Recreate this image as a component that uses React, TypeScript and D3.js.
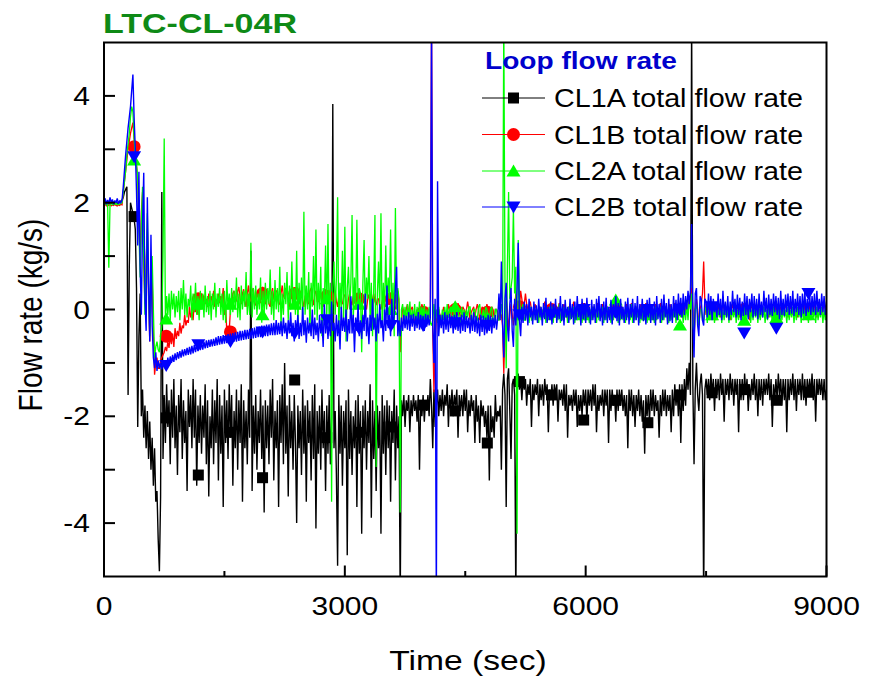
import React from "react";
import * as d3 from "d3";

// sampling interval of the digitised records (s)
const SAMPLE_STEP = 15;

const cl1a = [
  2.0, 2.03, 1.97, 2.02, 1.98, 2.01, 1.99, 2.02, 1.98, 2.0, 2.02, 1.97, 2.01, 2.0, 2.03, 2.05, 2.1, 2.2, 2.25, 2.3,
  -1.6, 0.8, 2.0, 1.9, 1.8, 1.7, 1.5, 0.4, -2.2, -0.5, 0.3, -2.0, -1.5, -2.4, -1.8, -2.6, -1.9, -2.8, -2.1, -3.0,
  -2.4, -3.3, -2.6, -3.6, -3.4, -4.3, -4.9, -3.5, 2.2, -2.8, -1.6, -2.5, -1.4, -2.2, -1.7, -2.9, -1.5, -2.4, -1.3, -2.6,
  -1.8, -3.1, -1.6, -2.3, -1.3, -2.8, -1.7, -2.5, -1.9, -3.4, -1.5, -2.2, -1.6, -2.6, -1.3, -2.4, -1.5, -3.3, -1.8, -2.5,
  -1.6, -2.7, -1.8, -2.4, -1.4, -2.9, -1.7, -3.5, -2.0, -2.6, -1.5, -2.9, -1.7, -2.5, -1.3, -3.2, -1.6, -2.7, -1.8, -3.7,
  -1.5, -2.5, -1.7, -2.8, -1.4, -2.4, -1.6, -3.3, -1.9, -2.6, -1.5, -3.0, -1.7, -2.5, -1.4, -3.6, -1.7, -2.6, -1.9, -2.9,
  -1.5, -2.4, 1.1, -3.4, -1.8, -2.7, -1.6, -3.0, -1.9, -2.5, -1.5, -2.8, -1.8, -3.8, -1.7, -2.6, -1.8, -2.9, -1.5, -2.4,
  -1.3, -3.2, -1.9, -2.6, -1.7, -3.7, -1.6, -2.5, -1.4, -2.9, -1.0, -2.7, -1.8, -3.5, -1.6, -2.6, -1.9, -3.0, -1.6, -2.5,
  -4.0, -1.8, -2.6, -1.9, -3.1, -1.5, -2.7, -1.8, -3.6, -1.7, -2.5, -1.9, -3.2, -1.6, -2.8, -1.4, -4.1, -1.9, -2.7, -1.8,
  -3.0, -1.5, -2.6, -1.9, -3.4, -1.8, -2.7, -1.6, -2.9, -2.0, 3.85, -2.6, -1.9, -3.1, -4.8, -1.6, -2.7, -1.8, -3.3, -1.9,
  -2.6, -1.7, -4.6, -1.5, -2.8, -1.9, -3.1, -2.0, -2.6, -1.7, -3.7, -1.6, -2.7, -1.9, -4.2, -1.8, -2.6, -1.7, -3.0, -1.9,
  -2.5, -1.4, -3.9, -1.7, -2.8, -1.9, -3.4, -1.8, -2.6, -1.9, -4.2, -1.6, -2.7, -1.8, -3.1, -1.7, -2.6, -1.8, -3.6, -1.9,
  -2.5, -1.5, -3.2, -1.8, -2.6, -2.0, -5.5, -1.7, -2.0, -1.6, -2.2, -1.7, -1.9, -1.6, -2.3, -1.7, -2.0, -1.6, -1.9, -1.7,
  -2.1, -1.6, -3.0, -1.7, -2.0, -1.6, -2.1, -1.7, -1.9, -1.6, -2.0, -1.3, -1.8, -2.6, -1.5, -2.2, -1.8, -1.5, -2.0, -1.6,
  -1.9, -1.5, -2.0, -1.6, -1.8, -1.4, -2.2, -1.6, -1.9, -1.5, -2.0, -1.6, -1.8, -1.5, -2.4, -1.6, -1.9, -1.6, -2.0, -1.5,
  -1.9, -1.5, -2.3, -1.7, -2.0, -1.6, -1.9, -1.7, -2.5, -1.6, -2.1, -1.8, -2.5, -1.7, -2.0, -1.8, -2.2, -1.9, -2.4, -1.8,
  -3.2, -1.8, -2.3, -2.0, -2.4, -1.6, -2.1, -1.9, -2.0, -1.8, -3.0, -1.5, -1.2, -1.6, -3.7, -1.3, -1.1, -1.9, -2.8, -1.4,
  -1.3, -1.6, -5.5, -1.3, -1.2, -1.5, -1.3, -1.7, -1.3, -1.5, -1.3, -1.8, -1.4, -1.6, -1.3, -2.2, -1.4, -1.7, -1.4, -1.6,
  -1.3, -2.0, -1.4, -1.7, -1.4, -1.8, -1.3, -1.6, -1.4, -2.3, -1.5, -1.7, -1.4, -1.8, -1.4, -1.6, -1.4, -2.1, -1.5, -1.7,
  -1.5, -1.8, -1.4, -1.9, -1.4, -2.4, -1.6, -1.8, -1.6, -1.9, -1.5, -1.8, -1.5, -2.2, -1.6, -1.9, -1.6, -2.0, -1.5, -1.8,
  -1.5, -2.1, -1.5, -1.8, -1.5, -1.9, -1.4, -1.8, -1.4, -2.3, -1.6, -1.9, -1.6, -1.8, -1.5, -2.0, -1.5, -1.8, -1.5, -2.5,
  -1.5, -1.9, -1.5, -1.8, -1.6, -2.1, -1.5, -1.9, -1.5, -1.8, -1.5, -1.9, -1.6, -2.0, -1.6, -2.6, -1.5, -1.9, -1.5, -2.0,
  -1.6, -2.2, -1.6, -1.9, -1.5, -2.0, -1.6, -2.1, -1.7, -2.7, -1.6, -2.0, -1.6, -2.1, -1.5, -1.9, -1.5, -2.0, -1.6, -1.9,
  -1.7, -2.4, -1.6, -2.0, -1.5, -1.9, -1.5, -2.0, -1.6, -1.9, -1.6, -2.3, -1.5, -2.0, -1.4, -1.8, -1.5, -2.0, -1.4, -2.5,
  -1.4, -1.9, -1.3, -1.8, -1.1, -1.5, -1.0, -1.6, 5.5, -1.4, -2.9, -1.5, -1.0, -1.6, -1.9, -1.4, -1.2, -1.6, -5.5, -1.5,
  -1.3, -1.6, -1.3, -1.7, -1.2, -1.6, -1.3, -1.9, -1.3, -1.6, -1.3, -1.7, -1.2, -1.6, -1.3, -2.1, -1.3, -1.6, -1.3, -1.7,
  -1.2, -1.6, -1.3, -1.8, -1.3, -1.6, -1.3, -2.3, -1.3, -1.7, -1.3, -1.7, -1.2, -1.6, -1.3, -1.9, -1.4, -1.7, -1.3, -1.6,
  -1.2, -1.7, -1.3, -2.0, -1.3, -1.7, -1.3, -1.8, -1.3, -1.6, -1.3, -1.6, -1.2, -1.7, -1.3, -2.2, -1.4, -1.7, -1.3, -1.7,
  -1.2, -1.6, -1.3, -1.8, -1.3, -1.7, -1.3, -2.3, -1.3, -1.7, -1.3, -1.6, -1.2, -1.7, -1.3, -1.9, -1.3, -1.6, -1.3, -1.7,
  -1.2, -1.7, -1.3, -1.8, -1.3, -1.6, -1.3, -1.6, -1.2, -1.7, -1.3, -2.1, -1.3, -1.6, -1.3, -1.6, -1.3, -1.7, -1.3, -1.7,
  -1.5,
];

const cl1b = [
  1.95, 1.97, 1.94, 1.96, 1.95, 1.97, 1.94, 1.96, 1.95, 1.97, 1.95, 1.94, 1.96, 1.95, 1.97, 1.96, 2.2, 2.4, 2.6, 2.8,
  3.0, 3.15, 3.3, 3.4, 3.5, 3.2, 3.05, 2.7, 2.4, 1.6, 1.0, 1.8, 2.2, 0.8, 0.1, 0.9, 1.5, 0.3, -0.6, 0.2,
  0.6, -0.5, -1.22, -1.0, -0.9, -1.1, -1.1, -0.95, -0.9, -0.85, -0.8, -0.7, -0.78, -0.6, -0.72, -0.5, -0.65, -0.45, -0.7, -0.35,
  -0.55, -0.4, -0.5, -0.25, -0.45, -0.3, -0.35, -0.1, -0.3, -0.2, -0.25, 0.05, -0.15, -0.05, -0.2, 0.15, -0.05, 0.1, -0.1, 0.2,
  0.0, 0.15, 0.05, 0.25, 0.1, 0.2, 0.05, 0.3, 0.15, 0.25, 0.1, 0.35, 0.05, 0.2, 0.1, 0.3, 0.12, 0.25, 0.15, 0.4,
  -0.1, 0.1, -0.45, -0.3, -0.4, 0.0, 0.1, 0.3, 0.35, 0.2, 0.15, 0.35, 0.42, 0.2, 0.1, 0.3, 0.38, 0.15, 0.05, 0.3,
  0.45, 0.2, 0.15, 0.35, 0.4, 0.1, 0.08, 0.3, 0.35, 0.2, 0.12, 0.4, 0.42, 0.15, 0.1, 0.35, 0.3, 0.1, 0.05, 0.3,
  0.4, 0.2, 0.15, 0.35, 0.35, 0.1, 0.1, 0.3, 0.45, 0.25, 0.2, 0.4, 0.38, 0.15, 0.05, 0.3, 0.3, 0.1, 0.15, 0.35,
  0.42, 0.2, 0.1, 0.3, 0.35, 0.15, 0.05, 0.25, 0.3, 0.1, 0.12, 0.35, 0.4, 0.2, 0.08, 0.3, 0.35, 0.15, 0.15, 0.3,
  0.3, 0.1, 0.05, 0.25, 0.38, 0.2, 0.1, 0.3, 0.32, 0.15, 0.12, 0.3, 0.35, 0.15, 0.05, 0.25, 0.3, 0.15, 0.1, 0.25,
  0.28, 0.1, 0.0, 0.2, 0.3, 0.15, 0.08, 0.25, 0.25, 0.1, 0.05, 0.2, 0.3, 0.15, 0.1, 0.2, 0.25, 0.1, 0.0, 0.2,
  0.28, 0.1, 0.05, 0.2, 0.3, 0.15, 0.08, 0.2, 0.2, 0.05, 0.0, 0.15, 0.25, 0.1, 0.05, 0.2, 0.3, 0.15, 0.1, 0.2,
  0.2, 0.05, 0.0, 0.2, 0.35, 0.1, -0.8, -0.3, 0.05, -0.05, -0.1, 0.0, 0.1, -0.05, -0.15, 0.0, 0.05, -0.1, -0.3, -0.1,
  0.0, -0.1, -0.2, -0.05, 0.1, 0.0, -0.1, -0.05, 0.05, -0.05, -0.15, -0.05, 5.5, -0.4, -1.55, -0.6, -0.2, -0.1, 0.0, -0.1,
  -0.25, -0.1, 0.05, -0.05, -0.2, -0.1, 0.1, 0.0, -0.3, -0.1, 0.0, -0.05, -0.15, 0.0, 0.12, 0.0, -0.2, -0.05, 0.05, 0.0,
  -0.1, 0.0, 0.15, 0.0, -0.2, -0.05, 0.0, 0.05, -0.15, 0.0, 0.1, 0.0, -0.2, -0.05, 0.05, 0.0, -0.1, 0.0, 0.1, 0.0,
  -0.25, -0.1, 0.05, 0.0, -0.15, 0.0, 0.0, -0.05, -0.2, -0.1, -0.1, -0.3, -1.2, -0.4, 0.2, 0.0, -0.4, -0.1, 0.1, -0.1,
  -0.3, 0.0, 0.3, 0.1, -0.2, 0.0, 0.35, 0.2, -0.05, 0.1, 0.3, 0.1, 0.0, 0.05, 0.15, 0.0, -0.1, 0.0, 0.1, 0.0,
  -0.15, 0.0, 0.05, 0.0, -0.1, 0.0, 0.15, 0.0, -0.05, 0.0, 0.1, 0.0, -0.15, 0.0, 0.05, 0.0, -0.1, 0.0, 0.12, 0.0,
  -0.05, 0.0, 0.1, 0.0, -0.15, 0.0, 0.05, 0.0, -0.1, 0.0, 0.15, 0.0, -0.1, 0.0, 0.05, 0.0, -0.15, 0.0, 0.1, 0.0,
  -0.05, 0.0, 0.1, 0.0, -0.15, 0.0, 0.05, 0.0, -0.1, 0.0, 0.12, 0.0, -0.05, 0.0, 0.1, 0.0, -0.15, 0.0, 0.05, 0.0,
  -0.1, 0.0, 0.12, 0.0, -0.05, 0.0, 0.1, 0.0, -0.15, 0.0, 0.05, 0.0, -0.1, 0.0, 0.1, 0.0, -0.05, 0.0, 0.12, 0.0,
  -0.15, 0.0, 0.05, 0.0, -0.1, 0.0, 0.1, 0.0, -0.05, 0.0, 0.12, 0.0, -0.1, 0.0, 0.05, 0.0, -0.15, 0.0, 0.1, 0.0,
  -0.05, 0.0, 0.12, 0.0, -0.1, 0.0, 0.05, 0.0, -0.15, 0.0, 0.1, 0.0, -0.05, 0.0, 0.12, 0.0, -0.1, 0.0, 0.05, 0.0,
  -0.15, 0.0, 0.1, 0.0, -0.05, 0.0, 0.2, 0.1, 0.4, 0.0, -0.6, 0.0, 0.2, 0.0, -0.3, 0.0, 0.1, 0.3, 0.9, 0.1,
  -0.1, 0.0, 0.05, 0.0, -0.15, 0.0, 0.1, 0.0, -0.2, 0.0, 0.05, 0.0, -0.15, 0.0, 0.1, 0.0, -0.1, 0.0, 0.05, 0.0,
  -0.2, 0.0, 0.1, 0.0, -0.1, 0.0, 0.05, 0.0, -0.15, 0.0, 0.1, 0.0, -0.1, 0.0, 0.05, 0.0, -0.2, 0.0, 0.1, 0.0,
  -0.05, 0.0, 0.1, 0.0, -0.15, 0.0, 0.05, 0.0, -0.1, 0.0, 0.1, 0.0, -0.15, 0.0, 0.05, 0.0, -0.1, 0.0, 0.1, 0.0,
  -0.2, 0.0, 0.05, 0.0, -0.1, 0.0, 0.1, 0.0, -0.15, 0.0, 0.05, 0.0, -0.1, 0.0, 0.1, 0.0, -0.15, 0.0, 0.05, 0.0,
  -0.1, 0.0, 0.1, 0.0, -0.2, 0.0, 0.05, 0.0, -0.1, 0.0, 0.1, 0.0, -0.15, 0.0, 0.05, 0.0, -0.1, 0.0, 0.1, 0.0,
  -0.1,
];

const cl2a = [
  1.97, 1.99, 1.96, 1.98, 0.78, 1.97, 1.99, 1.96, 1.98, 1.97, 1.99, 1.96, 1.98, 1.97, 1.99, 2.0, 2.2, 2.4, 2.6, 2.9,
  3.1, 3.3, 3.6, 3.8, 3.7, 3.2, 2.9, 2.7, 2.5, 1.5, 0.6, 1.6, 2.3, 1.0, -0.1, 0.8, 1.8, 0.5, -0.5, 0.2,
  1.0, 0.0, -0.9, -0.7, -0.6, -0.75, -0.8, -0.5, -0.3, 1.0, 3.2, -0.2, 0.25, -0.1, 0.3, -0.2, 0.35, 0.0, 0.3, -0.15,
  0.25, -0.05, 0.35, -0.2, 0.4, 0.0, 0.55, -0.1, 0.3, -0.15, 0.2, 0.05, 0.45, -0.2, 0.3, -0.05, 0.5, -0.1, 0.25, -0.2,
  0.35, 0.0, 0.3, -0.15, 0.45, -0.05, 0.25, -0.1, 0.35, -0.2, 0.3, 0.0, 0.5, -0.15, 0.3, 0.05, 0.4, -0.1, 0.3, -0.2,
  0.35, -0.25, 0.55, 0.0, 0.3, -0.1, 0.4, -0.05, 0.35, 0.0, 0.6, -0.15, 0.3, -0.2, 0.45, 0.0, 0.35, 0.05, 0.7, -0.1,
  0.3, -0.1, 1.25, -0.15, 0.4, 0.0, 0.45, -0.1, 0.3, 0.0, 0.6, -0.25, 0.35, -0.1, 0.5, 0.0, 0.4, 0.1, 0.75, -0.1,
  0.35, -0.2, 0.55, 0.0, 0.4, -0.05, 0.8, -0.3, 0.3, -0.1, 0.5, 0.1, 0.7, -0.2, 0.45, 0.0, 0.9, 0.05, 0.4, -0.1,
  1.1, -0.3, 0.5, 0.0, 0.6, -0.2, 1.83, -0.1, 0.45, 0.0, 0.7, -0.4, 0.5, 0.05, 1.0, -0.1, 1.5, -0.2, 0.5, 0.0,
  0.8, -0.5, 0.4, 0.1, 1.2, -0.2, 1.6, -0.3, 0.5, -3.6, 0.4, 0.9, -0.1, 0.6, 2.1, -0.4, 0.5, 0.0, 1.1, -0.2,
  1.55, -0.6, 0.4, 0.8, 0.0, 0.5, 1.77, -0.2, 0.6, 0.0, 1.68, 0.1, 0.4, 0.3, -0.8, 0.5, 1.3, -0.1, 0.6, 0.2,
  1.0, -0.2, 0.5, -0.5, 0.4, 1.77, -2.95, 0.3, 0.9, 0.0, 1.8, -0.3, 0.5, -0.1, 1.2, 0.0, 0.6, 0.2, 1.5, -0.2,
  0.5, -0.5, 1.9, 0.0, 0.4, 0.2, -3.8, 0.0, 0.1, -0.2, 0.05, -0.25, 0.1, -0.2, 0.15, -0.25, 0.0, -0.2, 0.1, -0.3,
  0.05, -0.2, 0.15, -0.15, 0.05, -0.25, 0.1, -0.2, 0.0, -0.15, 0.05, -0.25, -0.3, -0.2, 0.1, -0.2, 0.0, -0.25, 0.05, -0.2,
  -0.25, 0.0, -0.2, 0.05, -0.2, 0.1, -0.15, 0.0, 0.05, -0.2, -0.2, 0.0, -0.25, 0.05, 0.0, -0.2, -0.25, 0.05, -0.15, 0.0,
  -0.2, 0.0, -0.15, 0.05, 0.05, -0.2, -0.25, 0.0, 0.0, -0.2, -0.2, 0.05, 0.1, -0.15, -0.15, 0.0, -0.2, 0.05, 0.0, -0.2,
  -0.2, 0.0, 0.05, -0.2, -0.25, 0.0, 0.0, -0.2, -0.2, 0.05, 0.1, -0.2, 5.5, 0.5, -1.1, 0.8, 2.2, 0.2, 0.4, 0.6,
  1.9, 0.3, 0.8, -4.2, 1.3, 0.2, -0.1, 0.0, 0.1, -0.2, -0.2, 0.0, 0.0, -0.25, 0.05, -0.2, -0.2, 0.0, 0.0, -0.2,
  0.0, -0.25, 0.05, -0.2, 0.0, -0.15, 0.05, -0.25, 0.0, -0.2, 0.05, -0.2, 0.0, -0.25, 0.05, -0.15, 0.0, -0.2, 0.1, -0.25,
  0.0, -0.2, 0.05, -0.15, 0.0, -0.25, 0.05, -0.2, 0.0, -0.15, 0.05, -0.25, 0.0, -0.2, 0.05, -0.15, 0.0, -0.25, 0.05, -0.2,
  0.0, -0.15, 0.05, -0.25, 0.0, -0.2, 0.05, -0.15, 0.0, -0.25, 0.05, -0.2, 0.0, -0.15, 0.05, -0.25, 0.0, -0.2, 0.05, -0.15,
  0.0, -0.25, 0.05, -0.2, 0.0, -0.15, 0.05, -0.25, 0.0, -0.2, 0.05, -0.2, 0.0, -0.25, 0.05, -0.15, 0.0, -0.2, 0.1, -0.25,
  0.0, -0.2, 0.05, -0.15, 0.0, -0.25, 0.05, -0.2, 0.0, -0.15, 0.05, -0.25, 0.0, -0.2, 0.05, -0.15, 0.0, -0.25, 0.05, -0.2,
  0.0, -0.15, 0.05, -0.25, 0.0, -0.2, 0.05, -0.15, 0.0, -0.25, 0.05, -0.2, 0.0, -0.15, 0.05, -0.25, 0.0, -0.2, 0.05, -0.15,
  0.0, -0.25, 0.05, -0.2, 0.1, -0.2, 0.2, 0.0, 0.3, -0.2, -0.5, 0.0, 0.1, -0.1, -0.3, 0.0, 0.0, -0.2, -0.2, 0.0,
  0.05, -0.25, 0.0, -0.2, 0.05, -0.15, 0.0, -0.25, 0.05, -0.2, 0.0, -0.15, 0.05, -0.25, 0.0, -0.2, 0.05, -0.15, 0.0, -0.25,
  0.05, -0.2, 0.0, -0.15, 0.05, -0.25, 0.0, -0.2, 0.05, -0.15, 0.0, -0.25, 0.05, -0.2, 0.0, -0.15, 0.05, -0.25, 0.0, -0.2,
  0.05, -0.15, 0.0, -0.25, 0.05, -0.2, 0.0, -0.15, 0.05, -0.25, 0.0, -0.2, 0.05, -0.15, 0.0, -0.25, 0.05, -0.2, 0.0, -0.15,
  0.05, -0.25, 0.0, -0.2, 0.05, -0.15, 0.0, -0.25, 0.05, -0.2, 0.0, -0.15, 0.05, -0.25, 0.0, -0.2, 0.05, -0.15, 0.0, -0.25,
  0.05, -0.2, 0.0, -0.15, 0.05, -0.25, 0.0, -0.2, 0.05, -0.15, 0.0, -0.25, 0.05, -0.2, 0.0, -0.15, 0.05, -0.25, 0.0, -0.2,
  0.0,
];

const cl2b = [
  2.0, 2.08, 1.97, 2.05, 1.98, 2.1, 2.0, 2.06, 1.97, 2.04, 2.0, 2.08, 1.98, 2.03, 2.0, 2.05, 2.3, 2.6, 2.9, 3.15,
  3.4, 3.6, 3.8, 4.1, 4.4, 3.6, 3.0, 2.2, 1.2, 2.58, 0.8, -0.1, 1.6, 2.56, 0.2, -0.4, 2.1, 0.5, -0.6, 1.4,
  -0.3, -0.9, -1.1, -0.8, -1.15, -0.95, -1.1, -1.0, -1.12, -0.95, -1.08, -0.95, -1.1, -0.9, -1.05, -0.88, -1.0, -0.85, -0.98, -0.82,
  -0.95, -0.8, -0.92, -0.78, -0.9, -0.75, -0.88, -0.74, -0.86, -0.72, -0.85, -0.7, -0.84, -0.68, -0.82, -0.66, -0.8, -0.65, -0.78, -0.63,
  -0.76, -0.62, -0.75, -0.6, -0.73, -0.58, -0.72, -0.57, -0.7, -0.56, -0.69, -0.55, -0.68, -0.52, -0.67, -0.5, -0.66, -0.5, -0.65, -0.48,
  -0.64, -0.48, -0.63, -0.46, -0.62, -0.45, -0.62, -0.44, -0.6, -0.43, -0.6, -0.42, -0.59, -0.4, -0.58, -0.4, -0.57, -0.38, -0.56, -0.38,
  -0.55, -0.36, -0.55, -0.35, -0.54, -0.34, -0.53, -0.33, -0.52, -0.32, -0.52, -0.3, -0.5, -0.3, -0.5, -0.28, -0.5, -0.28, -0.48, -0.26,
  -0.48, -0.25, -0.48, -0.2, -0.47, -0.25, -0.46, -0.22, -0.5, -0.15, -0.45, -0.25, -0.55, -0.2, -0.45, -0.05, -0.5, -0.25, -0.6, -0.2,
  -0.45, -0.1, -0.55, -0.25, -0.5, 0.05, -0.48, -0.2, -0.62, -0.15, -0.45, -0.25, -0.5, 0.0, -0.55, -0.15, -0.48, -0.25, -0.6, -0.1,
  -0.45, -0.2, -0.7, 0.1, -0.45, -0.15, -0.55, -0.2, -0.5, 0.15, -0.4, -0.25, -0.6, -0.1, -0.5, -0.2, -0.75, 0.05, -0.4, -0.15,
  -0.42, 0.0, -0.6, -0.18, -0.45, 0.25, -0.45, -0.1, -0.8, -0.15, -0.4, 0.1, -0.5, -0.2, -0.55, -0.1, -0.4, 0.3, -0.5, -0.15,
  -0.65, -0.1, -0.4, 0.2, -0.38, -0.15, -0.6, -0.08, -0.45, 0.1, -0.35, -0.2, -0.6, 0.0, -0.4, 0.45, -0.35, -0.1, -0.5, 0.2,
  -0.35, -0.1, 0.4, 0.8, -0.5, -0.2, -0.5, -0.15, -0.4, -0.1, -0.35, -0.12, -0.38, -0.05, -0.4, -0.1, -0.32, -0.08, -0.4, -0.12,
  -0.35, -0.05, -0.38, -0.1, -0.3, -0.12, -0.4, -0.08, -0.32, -0.1, -0.3, -0.15, 5.5, -0.3, -1.0, 0.2, -5.5, 2.4, -0.5, -0.1,
  -0.35, -0.1, -0.45, -0.05, -0.38, -0.1, -0.42, -0.08, -0.35, -0.12, -0.45, -0.1, -0.38, -0.05, -0.4, -0.15, -0.45, -0.1, -0.4, -0.05,
  -0.42, -0.12, -0.35, -0.15, -0.45, -0.1, -0.4, -0.05, -0.42, -0.12, -0.45, -0.15, -0.5, -0.1, -0.42, -0.12, -0.48, -0.15, -0.45, -0.1,
  -0.4, -0.12, -0.45, -0.15, -0.35, -0.1, -0.38, -0.15, 0.3, -0.2, 0.9, -0.3, -0.9, 0.2, 0.5, -0.3, -0.6, 0.1, 0.4, -0.4,
  -0.7, 0.2, -0.3, 0.4, 1.25, -0.2, -0.5, 0.05, -0.25, 0.15, -0.2, 0.1, -0.3, 0.2, -0.15, 0.05, -0.28, 0.15, -0.2, 0.08,
  -0.25, 0.2, -0.15, 0.05, -0.3, 0.12, -0.18, 0.22, -0.25, 0.05, -0.2, 0.15, -0.28, 0.1, -0.15, 0.2, -0.25, 0.05, -0.18, 0.25,
  -0.22, 0.1, -0.3, 0.18, -0.15, 0.05, -0.25, 0.2, -0.18, 0.1, -0.28, 0.15, -0.2, 0.25, -0.15, 0.08, -0.3, 0.2, -0.18, 0.12,
  -0.25, 0.22, -0.15, 0.05, -0.28, 0.18, -0.2, 0.1, -0.25, 0.2, -0.15, 0.25, -0.22, 0.1, -0.3, 0.15, -0.2, 0.22, -0.25, 0.05,
  -0.2, 0.18, -0.28, 0.1, -0.15, 0.25, -0.22, 0.12, -0.3, 0.2, -0.18, 0.05, -0.25, 0.15, -0.2, 0.22, -0.28, 0.1, -0.15, 0.2,
  -0.25, 0.12, -0.2, 0.25, -0.3, 0.1, -0.18, 0.2, -0.22, 0.05, -0.28, 0.18, -0.15, 0.22, -0.25, 0.1, -0.2, 0.15, -0.3, 0.25,
  -0.18, 0.1, -0.25, 0.2, -0.2, 0.28, -0.15, 0.12, -0.28, 0.2, -0.22, 0.1, -0.25, 0.25, -0.15, 0.18, -0.2, 0.3, -0.1, 0.22,
  -0.15, 0.3, -0.1, 0.25, 0.0, 0.35, 0.1, 0.35, 1.6, -0.2, -0.9, 0.3, 0.4, -0.3, -0.5, 0.25, 0.2, -0.2, -0.3, 0.2,
  0.15, -0.15, 0.3, -0.1, 0.25, -0.2, 0.2, -0.05, 0.1, -0.15, 0.3, -0.1, 0.2, -0.2, 0.35, -0.1, 0.15, -0.15, 0.25, -0.2,
  0.15, -0.1, 0.35, -0.05, 0.2, -0.15, 0.28, -0.1, 0.22, -0.2, 0.15, -0.12, 0.3, -0.1, 0.25, -0.18, 0.2, -0.05, 0.3, -0.15,
  0.25, -0.12, 0.2, -0.18, 0.3, -0.1, 0.15, -0.15, 0.35, -0.05, 0.22, -0.18, 0.28, -0.1, 0.2, -0.12, 0.3, -0.05, 0.25, -0.1,
  0.22, -0.18, 0.35, -0.1, 0.2, -0.12, 0.28, -0.05, 0.3, -0.1, 0.25, -0.08, 0.35, -0.12, 0.2, -0.05, 0.3, -0.1, 0.25, -0.15,
  0.3, -0.08, 0.35, -0.12, 0.2, -0.05, 0.3, -0.1, 0.25, -0.05, 0.3, -0.1, 0.35, -0.05, 0.2, -0.1, 0.3, -0.05, 0.25, -0.1,
  0.15,
];

// symbol positions (s) and the values read at them
const markerTimes = [375, 775, 1175, 1575, 1975, 2375, 2775, 3175, 3575, 3975, 4375,
  4775, 5175, 5575, 5975, 6375, 6775, 7175, 7575, 7975, 8375, 8775];
const cl1aMarks = [1.74, -2.03, -3.1, -2.3, -3.15, -1.32, -2.4, -2.3, -2.2, -1.79, -1.9,
  -2.5, -1.35, -1.6, -2.07, -1.7, -2.12, -1.6, -1.56, -1.5, -1.7, -1.55];
const cl1bMarks = [3.05, -0.5, 0.2, -0.42, 0.3, 0.3, 0.25, 0.2, 0.2, -0.05, 0.0,
  -0.05, 0.05, 0.0, 0.0, 0.0, -0.05, 0.0, 0.0, 0.0, -0.05, 0.0];
const cl2aMarks = [2.8, -0.18, 0.1, 0.1, -0.1, 0.1, 0.2, 0.1, 0.0, -0.1, 0.05,
  -0.15, -0.1, -0.05, -0.1, 0.18, -0.1, -0.29, -0.1, -0.2, -0.15, -0.1];
const cl2bMarks = [2.86, -1.05, -0.66, -0.6, -0.42, -0.45, -0.19, -0.35, -0.3, -0.3, -0.25,
  -0.3, -0.1, -0.1, 0.0, -0.05, 0.0, 0.0, 0.05, -0.44, -0.35, 0.3];

const seriesNames = ["CL1A total flow rate", "CL1B total flow rate", "CL2A total flow rate", "CL2B total flow rate"];
const xTickValues = [0, 3000, 6000, 9000];
const xMinorValues = [1500, 4500, 7500];
const yTickValues = [-4, -3, -2, -1, 0, 1, 2, 3, 4];
const yLabelValues = [-4, -2, 0, 2, 4];

const W = 870, H = 684;
const L = 104, R = 826.5, T = 42.5, B = 576.5;
const FONT = "'Liberation Sans', Arial, Helvetica, sans-serif";
const SX = 1.2; // horizontal stretch of the original figure

type Shape = "square" | "circle" | "tri-up" | "tri-down";

function Marker({ x, y, shape, color }: { x: number; y: number; shape: Shape; color: string }) {
  if (shape === "square") return <rect x={x - 5.5} y={y - 5.5} width={11} height={11} fill={color} />;
  if (shape === "circle") return <circle cx={x} cy={y} r={6.5} fill={color} />;
  if (shape === "tri-up")
    return <path d={`M${x - 7},${y + 5.5} L${x + 7},${y + 5.5} L${x},${y - 6.5} Z`} fill={color} />;
  return <path d={`M${x - 7},${y - 5.5} L${x + 7},${y - 5.5} L${x},${y + 6.5} Z`} fill={color} />;
}

export default function App() {
  const x = d3.scaleLinear().domain([0, 9000]).range([L, R]);
  const y = d3.scaleLinear().domain([-5, 5]).range([B, T]);

  const series = [
    { name: seriesNames[0], data: cl1a, marks: cl1aMarks, color: "#000000", shape: "square" as Shape, width: 1.4 },
    { name: seriesNames[1], data: cl1b, marks: cl1bMarks, color: "#ff0000", shape: "circle" as Shape, width: 1.3 },
    { name: seriesNames[2], data: cl2a, marks: cl2aMarks, color: "#00ff00", shape: "tri-up" as Shape, width: 1.3 },
    { name: seriesNames[3], data: cl2b, marks: cl2bMarks, color: "#0000ff", shape: "tri-down" as Shape, width: 1.4 },
  ];

  const line = d3
    .line<number>()
    .x((_, i) => x(i * SAMPLE_STEP))
    .y((v) => y(v));

  const legendRowY = [98, 134.5, 171, 207];

  return (
    <svg width={W} height={H} style={{ position: "absolute", left: 0, top: 0, background: "#fff" }} fontFamily={FONT}>
      <defs>
        <clipPath id="plotClip">
          <rect x={L} y={T} width={R - L} height={B - T} />
        </clipPath>
      </defs>
      <rect x={0} y={0} width={W} height={H} fill="#fff" />

      <g clipPath="url(#plotClip)">
        {series.map((s) => (
          <g key={s.name}>
            <path d={line(s.data) || ""} fill="none" stroke={s.color} strokeWidth={s.width} strokeLinejoin="miter" strokeMiterlimit={2} />
            {s.marks.map((v, k) => (
              <Marker key={k} x={x(markerTimes[k])} y={y(v)} shape={s.shape} color={s.color} />
            ))}
          </g>
        ))}
      </g>

      {/* frame */}
      <rect x={L} y={T} width={R - L} height={B - T} fill="none" stroke="#000" strokeWidth={2} />

      {/* y ticks */}
      {yTickValues.map((v) => (
        <line key={v} x1={L} x2={L + 11} y1={y(v)} y2={y(v)} stroke="#000" strokeWidth={2} />
      ))}
      {yLabelValues.map((v) => (
        <text key={v} transform={`translate(90,${y(v) + 9}) scale(${SX},1)`} textAnchor="end" fontSize={25} fill="#000">
          {v}
        </text>
      ))}

      {/* x ticks */}
      {xTickValues.map((v) => (
        <line key={v} x1={x(v)} x2={x(v)} y1={B} y2={B - 11} stroke="#000" strokeWidth={2} />
      ))}
      {xMinorValues.map((v) => (
        <line key={v} x1={x(v)} x2={x(v)} y1={B} y2={B - 5.5} stroke="#000" strokeWidth={2} />
      ))}
      {xTickValues.map((v) => (
        <text key={v} transform={`translate(${x(v)},615) scale(${SX},1)`} textAnchor="middle" fontSize={25} fill="#000">
          {v}
        </text>
      ))}

      {/* axis titles */}
      <text transform={`translate(468,670) scale(${SX},1)`} textAnchor="middle" fontSize={28} fill="#000">
        Time (sec)
      </text>
      <text transform={`translate(42,315) scale(${SX},1) rotate(-90)`} textAnchor="middle" fontSize={28} fill="#000">
        Flow rate (kg/s)
      </text>

      {/* title */}
      <text x={103} y={33} fontSize={28} fontWeight="bold" fill="#0e8a16" textLength={194} lengthAdjust="spacingAndGlyphs">
        LTC-CL-04R
      </text>

      {/* legend */}
      <text x={485} y={69} fontSize={23.5} fontWeight="bold" fill="#0000cc" textLength={192} lengthAdjust="spacingAndGlyphs">
        Loop flow rate
      </text>
      {series.map((s, k) => (
        <g key={s.name}>
          <line x1={482} x2={545} y1={legendRowY[k]} y2={legendRowY[k]} stroke={s.color} strokeWidth={1} />
          <Marker x={513.5} y={legendRowY[k]} shape={s.shape} color={s.color} />
          <text x={554} y={legendRowY[k] + 9} fontSize={25.5} fill="#000" textLength={249} lengthAdjust="spacingAndGlyphs">
            {s.name}
          </text>
        </g>
      ))}
    </svg>
  );
}
